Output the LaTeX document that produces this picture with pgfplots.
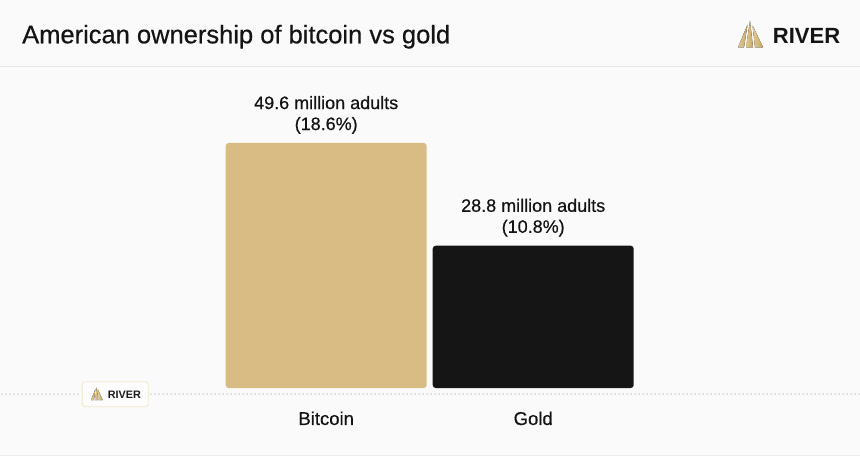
\documentclass[border=0pt]{standalone}
\usepackage{pgfplots}
\pgfplotsset{compat=1.18}
\usepackage{pgfplotstable}
\usepackage{fontspec}
\setmainfont{Liberation Sans}
\newfontfamily\medfont[FakeBold=0.5]{Liberation Sans}
\definecolor{bg}{HTML}{FAFAFA}
\definecolor{btc}{HTML}{D9BC84}
\definecolor{gld}{HTML}{151515}
\definecolor{sep}{HTML}{E6E6E6}
\definecolor{dot}{HTML}{BDBDBD}
\definecolor{logoA}{HTML}{E2C993}
\definecolor{logoB}{HTML}{C6A465}
\pgfplotstableread[col sep=comma]{
x,y,pct
0,49.6,18.6
}\btcdata
\pgfplotstableread[col sep=comma]{
x,y,pct
1,28.8,10.8
}\golddata
\begin{document}
\begin{tikzpicture}[x=1pt,y=1pt]
\useasboundingbox (0,0) rectangle (860,456);
\fill[bg] (0,0) rectangle (860,456);
% header
\draw[sep, line width=1pt] (0,389) -- (860,389);
\draw[sep!70, line width=0.8pt] (0,1) -- (860,1);
\node[anchor=base west, inner sep=0pt, font=\medfont\fontsize{25.5}{30}\selectfont, text=black!92] at (22,412.7) {American ownership of bitcoin vs gold};
% top-right logo
\begin{scope}[shift={(738,408.7)}]
  \fill[left color=logoA, right color=logoB] (0,0) -- (6,0) -- (9.5,22.5) -- cycle;
  \fill[left color=logoA, right color=logoB] (8,0) -- (15,0) -- (12,26.6) -- cycle;
  \fill[left color=logoA, right color=logoB] (17,0) -- (25,0) -- (14.5,22) -- cycle;
\end{scope}
\node[anchor=base west, inner sep=0pt, font=\fontsize{22}{26}\bfseries\selectfont, text=black!92] at (772.7,412.7) {RIVER};
% dotted baseline
\draw[dot, line width=1.5pt, line cap=round, dash pattern=on 0pt off 4pt] (2,62) -- (80,62);
\draw[dot, line width=1.5pt, line cap=round, dash pattern=on 0pt off 4pt] (151,62) -- (860,62);
% small logo
\draw[fill=white!60!bg, draw=logoA!45, line width=0.8pt, rounded corners=3pt] (82.3,49.3) rectangle (148.3,74.3);
\begin{scope}[shift={(91,56)}]
  \fill[left color=logoA, right color=logoB] (0,0) -- (3,0) -- (4.4,10.8) -- cycle;
  \fill[left color=logoA, right color=logoB] (4,0) -- (7.3,0) -- (5.8,12.7) -- cycle;
  \fill[left color=logoA, right color=logoB] (8.2,0) -- (11.7,0) -- (7,10.5) -- cycle;
\end{scope}
\node[anchor=base west, inner sep=0pt, font=\fontsize{10.8}{13}\bfseries\selectfont, text=black!90] at (107.7,57.7) {RIVER};
\begin{axis}[
  at={(326.2pt,68pt)}, anchor=origin,
  x=207pt, y=4.94pt,
  xmin=-0.5, xmax=1.5, ymin=0, ymax=60,
  clip=false,
  axis line style={draw=none},
  tick style={draw=none},
  ytick=\empty,
  xtick={0,1},
  xticklabels={Bitcoin,Gold},
  xticklabel style={anchor=base, inner sep=0pt, yshift=-32.7pt, font=\medfont\fontsize{18.5}{22}\selectfont, text=black!92},
  ybar, bar width=201pt, bar shift=0pt,
  /pgf/number format/.cd, fixed, fixed zerofill, precision=1, assume math mode=true,
  /pgfplots/.cd,
  nodes near coords={\pgfmathprintnumber{\pgfplotspointmeta} million adults\\(\pgfmathprintnumber{\pct}\%)},
  nodes near coords style={align=center, anchor=south, inner sep=0pt, yshift=9pt, font=\medfont\fontsize{18}{21}\selectfont, text=black!92},
  visualization depends on={\thisrow{pct} \as \pct},
]
\addplot[fill=btc, draw=none, rounded corners=3pt] table[x=x, y=y] {\btcdata};
\addplot[fill=gld, draw=none, rounded corners=3pt] table[x=x, y=y] {\golddata};
\end{axis}
\end{tikzpicture}
\end{document}
